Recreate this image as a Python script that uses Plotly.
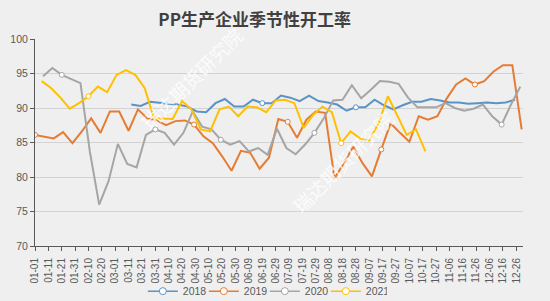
import pandas as pd
import plotly.graph_objects as go

# ---- data (weekly values, plotted on a common Jan-Dec calendar axis) ----
series_names = ["2018", "2019", "2020", "2021"]
series_colors = ["#5A93C6", "#E57C34", "#A5A5A5", "#FFC000"]
start_dates = ["2020-03-13", "2020-01-01", "2020-01-07", "2020-01-06"]

values_2018 = [90.5, 90.3, 90.9, 90.7, 90.6, 90.5, 90.2, 89.5, 89.4, 90.7,
               91.3, 90.2, 90.2, 91.2, 90.7, 90.7, 91.8, 91.5, 91.0, 91.8,
               91.0, 90.8, 90.5, 89.6, 90.1, 90.1, 91.2, 90.4, 89.8, 90.4,
               90.9, 90.9, 91.3, 91.1, 90.8, 90.8, 90.6, 90.7, 90.8, 90.7,
               90.8, 91.2]
values_2019 = [86.1, 85.8, 85.6, 86.5, 84.9, 86.6, 88.5, 86.4, 89.5, 89.5,
               86.7, 89.8, 88.5, 88.2, 87.5, 88.1, 88.2, 87.6, 85.9, 84.9,
               83.0, 80.9, 83.8, 83.5, 81.2, 82.8, 88.4, 88.0, 85.7, 88.3,
               89.5, 89.3, 79.8, 82.0, 84.4, 82.0, 80.1, 84.0, 87.8, 86.4,
               85.1, 88.8, 88.3, 88.8, 91.4, 93.4, 94.3, 93.4, 93.9, 95.3,
               96.2, 96.2, 86.9]
values_2020 = [94.6, 95.8, 94.8, 94.2, 93.6, 83.7, 76.0, 79.4, 84.8, 81.9,
               81.4, 86.1, 86.9, 86.4, 84.7, 86.4, 89.5, 87.3, 86.9, 85.4,
               84.7, 85.2, 83.7, 84.2, 83.2, 87.0, 84.2, 83.3, 84.7, 86.4,
               88.5, 91.1, 91.2, 93.3, 91.4, 92.6, 93.9, 93.8, 93.5, 91.5,
               90.1, 90.1, 90.1, 90.7, 90.0, 89.6, 89.9, 90.5, 88.8, 87.6,
               90.5, 93.1]
values_2021 = [93.9, 92.9, 91.5, 89.9, 90.7, 91.7, 93.1, 92.3, 94.8, 95.5,
               94.8, 92.9, 88.5, 88.5, 88.4, 91.0, 89.8, 86.9, 86.6, 89.8,
               90.2, 88.8, 90.2, 90.1, 89.4, 91.1, 91.2, 90.7, 87.1, 89.0,
               90.2, 89.4, 84.9, 86.6, 85.6, 85.3, 87.8, 91.7, 88.9, 86.1,
               86.9, 83.7]
all_values = [values_2018, values_2019, values_2020, values_2021]

# points that carry a visible marker in the original
marker_points_2018 = [14, 24]
marker_points_2019 = [0, 17, 27, 37, 47]
marker_points_2020 = [2, 12, 19, 29, 49]
marker_points_2021 = [5, 32]
all_marker_points = [marker_points_2018, marker_points_2019,
                     marker_points_2020, marker_points_2021]

title_text = "PP生产企业季节性开工率"
watermark_text = "瑞达期货研究院"

fig = go.Figure()

for name, color, start, vals, midx in zip(series_names, series_colors, start_dates,
                                          all_values, all_marker_points):
    dates = pd.date_range(start, periods=len(vals), freq="7D")
    fig.add_trace(go.Scatter(x=dates, y=vals, mode="lines", name=name,
                             line=dict(color=color, width=2),
                             showlegend=False, hoverinfo="skip"))
    fig.add_trace(go.Scatter(x=[dates[i] for i in midx], y=[vals[i] for i in midx],
                             mode="markers", name=name,
                             marker=dict(size=5, color="white",
                                         line=dict(color=color, width=1)),
                             showlegend=False, hoverinfo="skip"))

# legend entries
for name, color in zip(series_names, series_colors):
    fig.add_trace(go.Scatter(x=[None], y=[None], mode="lines+markers", name=name,
                             line=dict(color=color, width=1.5),
                             marker=dict(size=7, color="white",
                                         line=dict(color=color, width=1))))

axis_color = "#595959"
tick_font = dict(family="Liberation Sans, Arial, sans-serif", size=10, color=axis_color)

fig.update_layout(
    width=550, height=301,
    margin=dict(l=35, r=27, t=39, b=55, autoexpand=False),
    paper_bgcolor="#EFEFEF", plot_bgcolor="#EFEFEF",
    font=dict(family="Liberation Sans, Arial, sans-serif", color=axis_color),
    title=dict(text="<b>" + title_text + "</b>",
               font=dict(family="Noto Sans CJK SC", size=17, color="#404040"),
               x=0.463, xref="container", xanchor="center",
               y=0.934, yref="container", yanchor="middle"),
    xaxis=dict(type="date", range=["2020-01-01", "2020-12-31"],
               tick0="2020-01-01", dtick=10 * 86400000, tickformat="%m-%d",
               tickangle=-90, ticks="outside", ticklen=4, tickcolor=axis_color,
               ticklabelstandoff=3,
               showline=True, linecolor=axis_color, linewidth=1,
               showgrid=False, zeroline=False, tickfont=tick_font),
    yaxis=dict(range=[70, 100], dtick=5, ticks="outside", ticklen=4,
               tickcolor=axis_color, showline=True, linecolor=axis_color,
               linewidth=1, showgrid=True, gridcolor="#D3D3D3", gridwidth=1,
               zeroline=False, tickfont=dict(family="Liberation Sans, Arial, sans-serif",
                                              size=10.5, color=axis_color)),
    legend=dict(orientation="h", xref="paper", yref="paper",
                x=0.471, xanchor="center", y=-0.218, yanchor="middle",
                font=dict(family="Liberation Sans, Arial, sans-serif", size=10.5,
                          color=axis_color),
                bgcolor="rgba(0,0,0,0)", itemwidth=30,
                entrywidth=16, entrywidthmode="pixels"),
    annotations=[
        dict(text=watermark_text, xref="paper", yref="paper", x=0.32, y=0.81,
             xanchor="center", yanchor="middle",
             showarrow=False, textangle=-45,
             font=dict(family="Noto Sans CJK SC", size=19,
                       color="rgba(255,255,255,0.8)")),
        dict(text=watermark_text, xref="paper", yref="paper", x=0.63, y=0.41,
             xanchor="center", yanchor="middle",
             showarrow=False, textangle=-45,
             font=dict(family="Noto Sans CJK SC", size=19,
                       color="rgba(255,255,255,0.8)")),
    ],
)

fig.write_html("out.html")
